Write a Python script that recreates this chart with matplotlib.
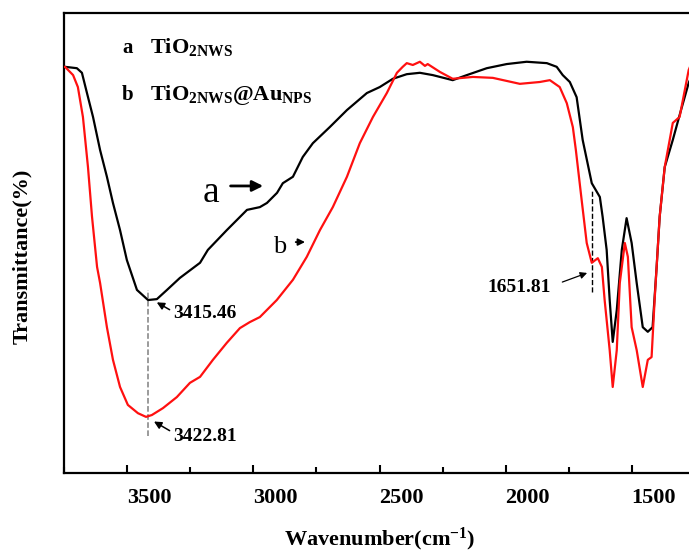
import matplotlib
matplotlib.use("Agg")

import matplotlib.pyplot as plt
import matplotlib.transforms as mtransforms
from matplotlib.ticker import MultipleLocator


# curve a: TiO2 nanowires (black)
wn_a = [3750, 3746, 3699, 3679, 3659, 3635, 3607, 3580, 3556, 3528, 3501, 3461,
        3417, 3382, 3342, 3291, 3211, 3180, 3105, 3025, 2974, 2946, 2906, 2883,
        2843, 2804, 2764, 2697, 2629, 2550, 2499, 2447, 2392, 2340, 2289, 2210,
        2154, 2075, 1996, 1917, 1837, 1798, 1774, 1746, 1719, 1695, 1659, 1627,
        1616, 1600, 1588, 1576, 1560, 1540, 1521, 1501, 1481, 1457, 1437, 1418,
        1402, 1390, 1370, 1338, 1311, 1275, 1250]
t_a = [88.3, 88.3, 88.0, 87.0, 82.6, 77.4, 70.2, 64.4, 58.7, 52.8, 46.3, 39.8,
       37.6, 37.8, 39.8, 42.4, 45.7, 48.5, 52.8, 57.2, 57.8, 58.7, 60.9, 63.0,
       64.4, 68.7, 71.7, 75.2, 78.9, 82.6, 83.9, 85.7, 86.7, 87.0, 86.5, 85.4,
       86.5, 88.0, 88.9, 89.4, 89.1, 88.3, 86.5, 85.0, 81.7, 72.4, 63.0, 60.0,
       55.7, 48.5, 37.6, 28.5, 35.4, 48.5, 55.4, 50.0, 41.3, 31.7, 30.7, 31.7,
       44.8, 55.7, 66.5, 72.4, 77.8, 84.8, 88.0]

# curve b: TiO2@Au (red)
wn_b = [3750, 3746, 3714, 3695, 3675, 3655, 3639, 3619, 3607, 3580, 3556, 3528,
        3497, 3457, 3425, 3402, 3358, 3303, 3251, 3211, 3160, 3105, 3053, 3014,
        2974, 2907, 2843, 2788, 2736, 2685, 2629, 2578, 2526, 2471, 2431, 2408,
        2392, 2368, 2340, 2320, 2309, 2261, 2210, 2130, 2051, 1944, 1865, 1825,
        1786, 1758, 1734, 1722, 1699, 1679, 1659, 1635, 1619, 1608, 1588, 1576,
        1560, 1548, 1528, 1516, 1501, 1481, 1457, 1437, 1422, 1410, 1390, 1370,
        1338, 1311, 1275, 1250]
t_b = [88.3, 88.3, 86.5, 83.9, 77.4, 66.5, 55.7, 44.8, 41.3, 31.7, 24.6, 18.7,
       14.8, 13.0, 12.2, 12.6, 14.1, 16.5, 19.6, 20.9, 24.6, 28.3, 31.5, 32.8,
       33.9, 37.6, 42.0, 47.0, 52.8, 57.8, 64.4, 71.7, 77.4, 82.6, 87.0, 88.3,
       89.1, 88.7, 89.4, 88.5, 88.9, 87.2, 85.7, 86.1, 85.9, 84.6, 85.0, 85.4,
       83.9, 80.4, 75.2, 70.2, 59.3, 50.0, 45.7, 46.7, 44.8, 37.6, 26.7, 18.7,
       26.7, 41.3, 50.0, 47.0, 31.7, 26.7, 18.7, 24.6, 25.2, 37.6, 55.7, 66.5,
       76.1, 77.4, 87.6, 91.0]

peak_labels = ["3415.46", "3422.81", "1651.81"]

plt.rcParams["font.family"] = ["Liberation Serif", "DejaVu Serif"]
plt.rcParams["font.weight"] = "bold"
plt.rcParams["mathtext.fontset"] = "custom"
plt.rcParams["mathtext.rm"] = "Liberation Serif:bold"
plt.rcParams["mathtext.bf"] = "Liberation Serif:bold"
plt.rcParams["mathtext.it"] = "Liberation Serif:italic:bold"


def main():
    fig = plt.figure(figsize=(6.89, 5.52), dpi=100)
    ax = fig.add_axes([64 / 689, 79 / 552, 631 / 689, 460 / 552])

    ax.plot(wn_a, t_a, color="black", lw=1.6, zorder=3)
    ax.plot(wn_b, t_b, color="#ff1010", lw=1.6, zorder=4)

    ax.set_xlim(3750, 1250)
    ax.set_ylim(0, 100)
    ax.set_yticks([])
    ax.xaxis.set_major_locator(MultipleLocator(500))
    ax.xaxis.set_minor_locator(MultipleLocator(250))
    ax.tick_params(axis="x", which="major", direction="in", length=6, width=1.5,
                   pad=11, labelsize=16, top=False)
    ax.tick_params(axis="x", which="minor", direction="in", length=4, width=1.5, top=False)
    for sp in ax.spines.values():
        sp.set_linewidth(1.6)

    # tick labels in the source sit ~22 px right of their ticks
    shift = mtransforms.ScaledTranslation(22 / 100, 0, fig.dpi_scale_trans)
    for lab in ax.get_xticklabels():
        lab.set_transform(lab.get_transform() + shift)
        lab.set_fontweight("bold")

    ax.set_xlabel(r"Wavenumber(cm$^{-1}$)", fontsize=16, fontweight="bold")
    ax.xaxis.set_label_coords(0.5, -0.115)
    ax.set_ylabel("Transmittance(%)", fontsize=16, fontweight="bold")
    ax.yaxis.set_label_coords(-0.05, 0.47)

    # legend written as text
    ax.text(0.092, 0.913, "a", transform=ax.transAxes, fontsize=15, fontweight="bold")
    ax.text(0.136, 0.913, r"TiO$_{\mathbf{2NWS}}$", transform=ax.transAxes,
            fontsize=16, fontweight="bold")
    ax.text(0.092, 0.811, "b", transform=ax.transAxes, fontsize=15, fontweight="bold")
    ax.text(0.136, 0.811, r"TiO$_{\mathbf{2NWS}}$@Au$_{\mathbf{NPS}}$",
            transform=ax.transAxes, fontsize=16, fontweight="bold")

    # curve labels with arrows
    ax.text(3168, 58.9, "a", fontsize=27, fontweight="normal", ha="center", va="baseline")
    ax.annotate("", xy=(2950, 62.4), xytext=(3101, 62.4),
                arrowprops=dict(arrowstyle="-|>", color="black", lw=2, mutation_scale=16))
    ax.text(2895, 47.8, "b", fontsize=19, fontweight="normal", ha="center", va="baseline")
    ax.annotate("", xy=(2784, 50.2), xytext=(2843, 50.2),
                arrowprops=dict(arrowstyle="-|>", color="black", lw=1.3, mutation_scale=10))

    # peak markers
    ax.plot([3419, 3419], [8.0, 39.8], ls="--", color="gray", lw=1.1, zorder=2)
    ax.plot([1659, 1659], [39.3, 61.5], ls="--", color="black", lw=1.0, zorder=2)

    ax.text(3318, 34.6, peak_labels[0], fontsize=14, fontweight="bold", ha="left", va="center")
    ax.annotate("", xy=(3392, 37.4), xytext=(3322, 35.2),
                arrowprops=dict(arrowstyle="-|>", color="black", lw=1.1, mutation_scale=11))
    ax.text(3318, 8.0, peak_labels[1], fontsize=14, fontweight="bold", ha="left", va="center")
    ax.annotate("", xy=(3403, 11.5), xytext=(3322, 8.9),
                arrowprops=dict(arrowstyle="-|>", color="black", lw=1.1, mutation_scale=11))
    ax.text(2071, 40.4, peak_labels[2], fontsize=14, fontweight="bold", ha="left", va="center")
    ax.annotate("", xy=(1667, 43.7), xytext=(1786, 41.3),
                arrowprops=dict(arrowstyle="-|>", color="black", lw=0.9, mutation_scale=10))

    fig.savefig("out.png", dpi=100)
    plt.close(fig)


if __name__ == "__main__":
    main()
